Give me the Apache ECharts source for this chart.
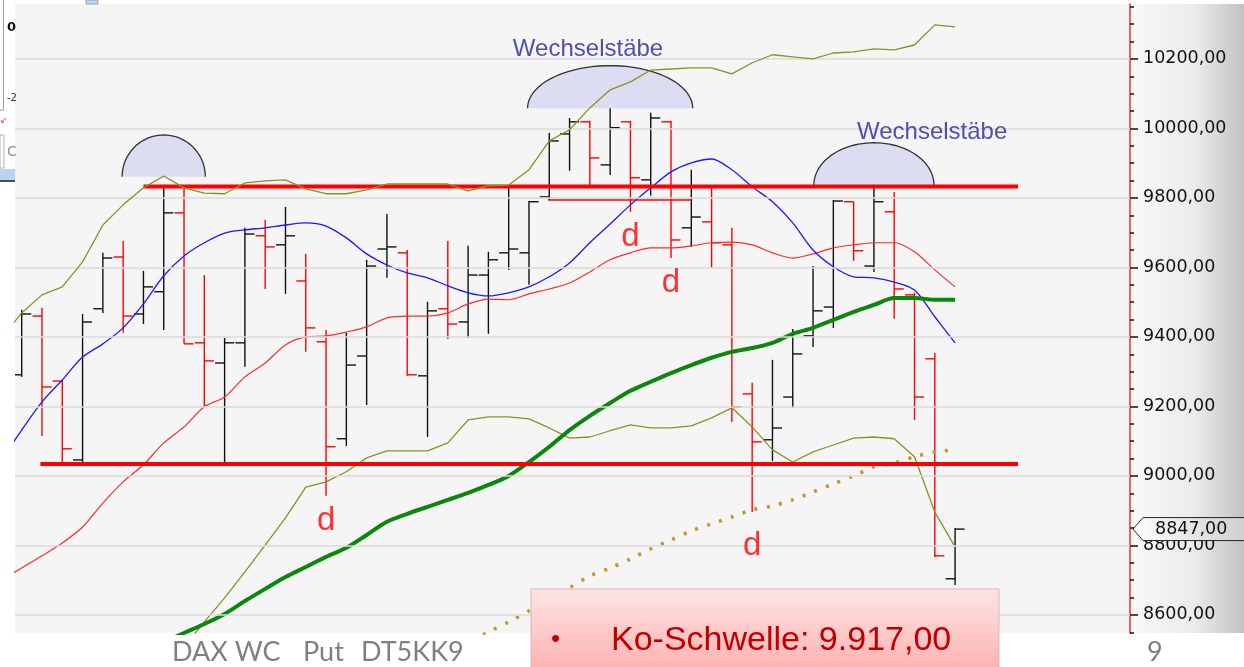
<!DOCTYPE html>
<html>
<head>
<meta charset="utf-8">
<title>DAX WC Put DT5KK9</title>
<script src="https://cdn.jsdelivr.net/npm/echarts@6/dist/echarts.min.js"></script>
<style>
  html, body { margin: 0; padding: 0; background: #fff; }
  .page { position: relative; width: 1244px; height: 667px; }
  .side {
    position: absolute; left: 1131px; top: 4px; width: 113px; height: 629px;
    background: linear-gradient(to right, #f8f8f8 0%, #ececec 55%, #c2c2c2 100%);
  }
  #chart { position: absolute; left: 0; top: 0; width: 1244px; height: 667px; }
</style>
</head>
<body>
<div class="page">
  <div class="side"></div>
  <div id="chart"></div>
</div>
<script>
// daily OHLC bars, oldest first (index 0..46)
const opens  = [9291, 9460, 9273, 9046, 9481, 9630, 9466, 9530, 9757, 9383, 9325, 9383, 9691, 9665, 9561, 9386, 9107, 9345, 9653, 9642, 9288, 9481, 9443, 9578, 9642, 9642, 9803, 9984, 10019, 9895, 10019, 9852, 10019, 9714, 9731, 9665, 9236, 9104, 9227, 9403, 9486, 9789, 9604, 9760, 9521, 9337, 8704]
const highs  = [9478, 9484, 9276, 9466, 9642, 9676, 9590, 9829, 9832, 9578, 9397, 9714, 9737, 9774, 9639, 9420, 9412, 9622, 9754, 9650, 9501, 9676, 9662, 9645, 9832, 9791, 9987, 10030, 10022, 10062, 10022, 10045, 10022, 9881, 9829, 9714, 9268, 9334, 9423, 9604, 9794, 9789, 9898, 9817, 9527, 9354, 8850]
const lows   = [9285, 9115, 9037, 9040, 9469, 9412, 9437, 9420, 9380, 9199, 9040, 9314, 9538, 9524, 9357, 8943, 9086, 9204, 9570, 9288, 9112, 9394, 9397, 9409, 9593, 9550, 9794, 9878, 9835, 9866, 9760, 9806, 9627, 9659, 9599, 9155, 8896, 9043, 9196, 9371, 9426, 9619, 9587, 9452, 9161, 8767, 8686]
const closes = [9466, 9256, 9078, 9443, 9627, 9460, 9544, 9757, 9380, 9331, 9383, 9696, 9659, 9691, 9426, 9084, 9319, 9604, 9659, 9291, 9475, 9437, 9578, 9622, 9653, 9789, 9964, 10019, 9915, 10002, 9858, 10030, 9679, 9745, 9671, 9199, 9098, 9138, 9351, 9475, 9791, 9648, 9789, 9538, 9227, 8770, 8847]

// indicator lines, first value sits one bar left of bar 0
const blueLine = [9046, 9132, 9213, 9276, 9342, 9380, 9426, 9495, 9576, 9633, 9671, 9699, 9708, 9714, 9722, 9728, 9719, 9685, 9639, 9607, 9584, 9570, 9547, 9527, 9518, 9527, 9544, 9573, 9613, 9671, 9725, 9780, 9829, 9875, 9901, 9912, 9881, 9832, 9789, 9728, 9650, 9602, 9573, 9570, 9558, 9535, 9458, 9383]
const redLine = [8701, 8735, 8770, 8807, 8853, 8922, 8983, 9032, 9095, 9141, 9199, 9227, 9285, 9325, 9377, 9400, 9403, 9414, 9429, 9455, 9460, 9460, 9469, 9495, 9509, 9507, 9524, 9538, 9555, 9587, 9622, 9642, 9656, 9656, 9662, 9671, 9673, 9665, 9642, 9627, 9639, 9656, 9665, 9671, 9671, 9645, 9593, 9544]
const bandUpper = [9397, 9469, 9521, 9544, 9616, 9722, 9780, 9829, 9863, 9829, 9814, 9812, 9843, 9849, 9852, 9826, 9812, 9812, 9823, 9840, 9840, 9840, 9840, 9820, 9835, 9837, 9881, 9964, 9996, 10059, 10111, 10134, 10168, 10171, 10174, 10174, 10157, 10189, 10212, 10206, 10200, 10217, 10220, 10229, 10226, 10240, 10298, 10292]
const bandLower = [7881, 7950, 8019, 8088, 8160, 8229, 8298, 8370, 8439, 8508, 8580, 8649, 8724, 8801, 8879, 8968, 8983, 9012, 9052, 9072, 9072, 9072, 9095, 9161, 9170, 9170, 9164, 9138, 9109, 9112, 9130, 9147, 9138, 9138, 9144, 9167, 9196, 9141, 9075, 9040, 9069, 9089, 9109, 9112, 9107, 9055, 8896, 8796]
const greenLine = [8315, 8341, 8367, 8393, 8419, 8445, 8471, 8496, 8522, 8548, 8574, 8603, 8640, 8675, 8709, 8738, 8767, 8793, 8830, 8868, 8891, 8911, 8931, 8951, 8974, 9000, 9040, 9084, 9132, 9173, 9210, 9245, 9271, 9296, 9319, 9340, 9357, 9368, 9383, 9409, 9426, 9449, 9472, 9492, 9512, 9512, 9507, 9507]
// dotted trend line, starts at bar 20
const goldStart = 20
const goldLine = [8459, 8491, 8519, 8551, 8580, 8612, 8646, 8678, 8712, 8735, 8761, 8790, 8816, 8842, 8862, 8882, 8902, 8914, 8931, 8954, 8977, 9000, 9026, 9037, 9055, 9069, 9075]

// drawn horizontal levels: [startBar, endBar, price]
const levels = [[0.92, 49.1, 9034], [6, 49.1, 9833]]
const thinLevel = [25.95, 33.05, 9794]

// "Wechselstäbe" half-ellipses: [centerBar, basePrice, halfWidthBars, heightPoints]
const arcs = [[7, 9861, 2.05, 120], [29, 10058, 4.07, 122.6], [42, 9837, 2.96, 121.7]]
const arcLabelX = [27.91, 44.87]
const arcLabelY = [10226, 9990]
const dMarkX = [15, 30, 32, 36]
const dMarkY = [8871, 9688, 9555, 8799]

const priceTicks = [8600, 8800, 9000, 9200, 9400, 9600, 9800, 10000, 10200]
const minorTicks = []
for (let v = 8550; v <= 10350; v += 50) minorTicks.push(v)

const fmtPrice = v => v.toFixed(2).replace('.', ',')
const lineData = (arr, first) => arr.map((v, i) => [i + first, v])

function renderBar (params, api) {
  const x = api.value(0)
  const o = api.coord([x, api.value(1)])
  const h = api.coord([x, api.value(2)])
  const l = api.coord([x, api.value(3)])
  const c = api.coord([x, api.value(4)])
  const w = api.size([1, 0], [x, api.value(1)])[0] * 0.47
  const stroke = api.value(4) >= api.value(1) ? '#111' : '#ff0000'
  const style = { stroke, lineWidth: 1.4 }
  return {
    type: 'group',
    children: [
      { type: 'line', shape: { x1: h[0], y1: h[1], x2: l[0], y2: l[1] }, style },
      { type: 'line', shape: { x1: o[0] - w, y1: o[1], x2: o[0], y2: o[1] }, style },
      { type: 'line', shape: { x1: c[0], y1: c[1], x2: c[0] + w, y2: c[1] }, style }
    ]
  }
}

function renderArc (params, api) {
  const c = api.coord([api.value(0), api.value(1)])
  const s = api.size([api.value(2), api.value(3)], [api.value(0), api.value(1)])
  const pts = []
  for (let k = 0; k <= 48; k++) {
    const t = Math.PI - Math.PI * k / 48
    pts.push([c[0] + s[0] * Math.cos(t), c[1] - s[1] * Math.sin(t)])
  }
  return {
    type: 'group',
    children: [
      { type: 'polygon', shape: { points: pts }, style: { fill: '#dcdcf3' } },
      { type: 'polyline', shape: { points: pts }, style: { stroke: '#333', lineWidth: 1.3, fill: null } }
    ]
  }
}

const barData = opens.map((o, i) => [i, o, highs[i], lows[i], closes[i]])
const thinLine = { width: 1.3 }
const gridBox = { left: 15, right: 114, top: 4, bottom: 34, outerBoundsMode: 'none' }
const xRange = { type: 'value', min: -0.33, max: 54.62, show: false }
const yRange = { type: 'value', position: 'right', min: 8548, max: 10358, splitLine: { show: false } }
// tick-only axes (grids 1 and 2 overlay the main grid)
const tickAxis = (grid, values, len) => ({
  ...yRange, gridIndex: grid,
  axisLine: { show: false, onZero: false },
  axisTick: { show: true, customValues: values, length: len, lineStyle: { color: '#111', width: 1.5 } },
  axisLabel: { show: false }
})

const chart = echarts.init(document.getElementById('chart'), null, { renderer: 'canvas' })
chart.setOption({
  animation: false,
  backgroundColor: 'transparent',
  grid: [
    { ...gridBox, show: true, backgroundColor: '#f5f5f5', borderWidth: 0 },
    { ...gridBox, show: false },
    { ...gridBox, show: false }
  ],
  xAxis: [
    { ...xRange, gridIndex: 0 },
    { ...xRange, gridIndex: 1 },
    { ...xRange, gridIndex: 2 }
  ],
  yAxis: [{
    ...yRange, gridIndex: 0,
    axisLine: { show: true, onZero: false, lineStyle: { color: '#ff3535', width: 1.6 } },
    axisTick: { show: false },
    axisLabel: {
      customValues: priceTicks, formatter: fmtPrice, margin: 13,
      color: '#111', fontFamily: 'DejaVu Sans', fontSize: 17.5
    }
  },
  tickAxis(1, minorTicks, 4),
  tickAxis(2, priceTicks, 8)],
  series: [
    {
      name: 'band lower', type: 'line', z: 3, showSymbol: false, silent: true,
      data: lineData(bandLower, -1),
      lineStyle: { color: '#8f8f22', ...thinLine },
      markLine: {
        silent: true, symbol: ['none', 'none'], label: { show: false },
        lineStyle: { color: '#dadada', width: 1.6, type: 'solid' },
        data: priceTicks.map(v => ({ yAxis: v }))
      }
    },
    {
      name: 'bars', type: 'custom', z: 2, clip: true,
      renderItem: renderBar,
      encode: { x: 0, y: [1, 2, 3, 4] },
      data: barData
    },
    {
      name: 'trend', type: 'line', z: 3, showSymbol: false, silent: true, smooth: 0.3,
      data: lineData(goldLine, goldStart),
      lineStyle: { color: '#c4982a', width: 3.6, type: [3, 9.5] }
    },
    {
      name: 'ma red', type: 'line', z: 4, showSymbol: false, silent: true, smooth: 0.3,
      data: lineData(redLine, -1),
      lineStyle: { color: '#ff2b2b', width: 1.2 }
    },
    {
      name: 'ma blue', type: 'line', z: 4, showSymbol: false, silent: true, smooth: 0.3,
      data: lineData(blueLine, -1),
      lineStyle: { color: '#1a1aff', ...thinLine }
    },
    {
      name: 'ma green', type: 'line', z: 4, showSymbol: false, silent: true, smooth: 0.3,
      data: lineData(greenLine, -1),
      lineStyle: { color: '#0b870b', width: 4 }
    },
    ...levels.map((lv, k) => ({
      name: 'level ' + k, type: 'line', z: 4, showSymbol: false, silent: true,
      data: [[lv[0], lv[2]], [lv[1], lv[2]]],
      lineStyle: { color: '#ff0000', width: 4 }
    })),
    {
      name: 'level thin', type: 'line', z: 4, showSymbol: false, silent: true,
      data: [[thinLevel[0], thinLevel[2]], [thinLevel[1], thinLevel[2]]],
      lineStyle: { color: '#ff0000', width: 1.5 }
    },
    {
      name: 'band upper', type: 'line', z: 5, showSymbol: false, silent: true,
      data: lineData(bandUpper, -1),
      lineStyle: { color: '#8f8f22', ...thinLine }
    },
    {
      name: 'arcs', type: 'custom', z: 3, clip: true, silent: true,
      renderItem: renderArc,
      data: arcs
    },
    {
      name: 'arc labels', type: 'scatter', z: 6, silent: true,
      symbolSize: 1, itemStyle: { color: 'rgba(0,0,0,0)' },
      data: arcLabelX.map((x, i) => [x, arcLabelY[i]]),
      label: {
        show: true, position: 'inside', formatter: 'Wechselstäbe',
        color: '#25259c', fontFamily: 'Liberation Sans', fontSize: 24
      }
    },
    {
      name: 'd marks', type: 'scatter', z: 6, silent: true,
      symbolSize: 1, itemStyle: { color: 'rgba(0,0,0,0)' },
      data: dMarkX.map((x, i) => [x, dMarkY[i]]),
      label: {
        show: true, position: 'inside', formatter: 'd',
        color: '#ff0000', fontFamily: 'Liberation Sans', fontSize: 33
      }
    }
  ]
})

const lastPrice = closes[closes.length - 1]
const tagY = chart.convertToPixel({ yAxisIndex: 0 }, lastPrice)
const footFont = { fontFamily: 'Lato', fontSize: 27, fill: '#808080' }

chart.setOption({
  graphic: [
    // last price tag
    {
      type: 'polygon', z: 20, silent: true,
      shape: { points: [[1133, tagY], [1143, tagY - 11.5], [1246, tagY - 11.5], [1246, tagY + 11.5], [1143, tagY + 11.5]] },
      style: {
        stroke: '#222', lineWidth: 1,
        fill: new echarts.graphic.LinearGradient(0, 0, 1, 0, [
          { offset: 0, color: '#ffffff' },
          { offset: 1, color: '#cfcfcf' }
        ])
      }
    },
    {
      type: 'text', z: 21, silent: true, x: 1155, y: tagY,
      style: { text: fmtPrice(lastPrice), fontFamily: 'DejaVu Sans', fontSize: 17.5, fill: '#111', verticalAlign: 'middle' }
    },
    // window fragments at the top left
    { type: 'line', z: 20, silent: true, shape: { x1: 3.5, y1: 0, x2: 3.5, y2: 110 }, style: { stroke: '#a0a0a0', lineWidth: 1 } },
    { type: 'line', z: 20, silent: true, shape: { x1: 0, y1: 110, x2: 4, y2: 110 }, style: { stroke: '#a0a0a0', lineWidth: 1 } },
    { type: 'text', z: 20, silent: true, x: 7, y: 28, style: { text: '0', fontFamily: 'DejaVu Sans', fontWeight: 'bold', fontSize: 13, fill: '#111', verticalAlign: 'middle' } },
    { type: 'text', z: 20, silent: true, x: 7, y: 98, style: { text: '-2', fontFamily: 'DejaVu Sans', fontSize: 10, fill: '#333', verticalAlign: 'middle' } },
    { type: 'text', z: 20, silent: true, x: 0, y: 121, style: { text: '↙', fontFamily: 'DejaVu Sans', fontSize: 9, fill: '#ff3030', verticalAlign: 'middle' } },
    { type: 'rect', z: 20, silent: true, shape: { x: 0, y: 135, width: 4, height: 33 }, style: { fill: '#fff', stroke: '#b0b0b0', lineWidth: 1 } },
    { type: 'text', z: 20, silent: true, x: 7, y: 152, style: { text: 'C', fontFamily: 'DejaVu Sans', fontSize: 14, fill: '#909090', verticalAlign: 'middle' } },
    { type: 'rect', z: 20, silent: true, shape: { x: 0, y: 169, width: 15, height: 11 }, style: { fill: '#b9d4ee' } },
    { type: 'line', z: 20, silent: true, shape: { x1: 0, y1: 181, x2: 15, y2: 181 }, style: { stroke: '#111', lineWidth: 1.5 } },
    { type: 'rect', z: 20, silent: true, shape: { x: 86, y: 0, width: 12, height: 4 }, style: { fill: '#c2d8ee', stroke: '#8aa4c0', lineWidth: 1 } },
    // footer
    { type: 'text', z: 20, silent: true, x: 172, y: 652, style: { text: 'DAX WC', ...footFont, verticalAlign: 'middle' } },
    { type: 'text', z: 20, silent: true, x: 303, y: 652, style: { text: 'Put', ...footFont, verticalAlign: 'middle' } },
    { type: 'text', z: 20, silent: true, x: 361, y: 652, style: { text: 'DT5KK9', ...footFont, verticalAlign: 'middle' } },
    { type: 'text', z: 20, silent: true, x: 1147, y: 652, style: { text: '9', ...footFont, verticalAlign: 'middle' } },
    // knock-out box
    {
      type: 'rect', z: 30, silent: true,
      shape: { x: 531, y: 589, width: 468, height: 82 },
      style: {
        stroke: 'rgba(220,170,170,0.8)', lineWidth: 1,
        fill: new echarts.graphic.LinearGradient(0, 0, 0, 1, [
          { offset: 0, color: '#fde4e4' },
          { offset: 1, color: '#ffb1b1' }
        ])
      }
    },
    { type: 'text', z: 31, silent: true, x: 551, y: 640, style: { text: '•', fontFamily: 'Liberation Sans', fontSize: 26, fill: '#c00000', verticalAlign: 'middle' } },
    { type: 'text', z: 31, silent: true, x: 611, y: 641, style: { text: 'Ko-Schwelle: 9.917,00', fontFamily: 'Liberation Sans', fontSize: 34, fill: '#c00000', verticalAlign: 'middle' } }
  ]
})
</script>
</body>
</html>
